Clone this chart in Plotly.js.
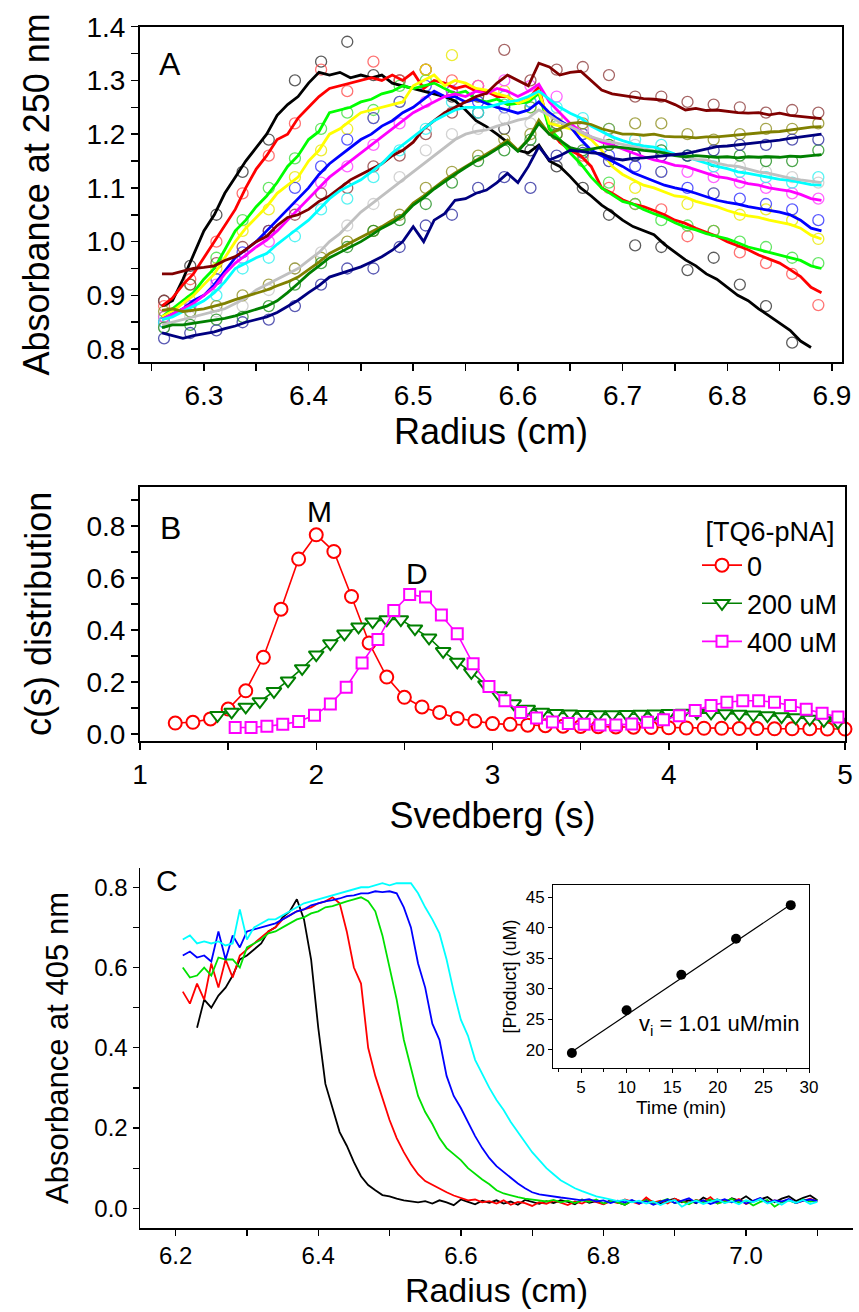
<!DOCTYPE html>
<html>
<head>
<meta charset="utf-8">
<script src="https://cdn.plot.ly/plotly-3.0.1.min.js"></script>
<style>html,body{margin:0;padding:0;background:#fff;}#chart{width:859px;height:1312px;}</style>
</head>
<body>
<div id="chart"></div>
<script>
// ---------------- Panel A data (radius in cm, absorbance at 250 nm) ----------------
const radiusA = [6.26,6.27,6.28,6.29,6.30,6.31,6.32,6.33,6.34,6.35,6.36,6.37,6.38,6.39,6.40,6.41,6.42,6.43,6.44,6.45,6.46,6.47,6.48,6.49,6.50,6.51,6.52,6.53,6.54,6.55,6.56,6.57,6.58,6.59,6.60,6.61,6.62,6.63,6.64,6.65,6.66,6.67,6.68,6.69,6.70,6.71,6.72,6.73,6.74,6.75,6.76,6.77,6.78,6.79,6.80,6.81,6.82,6.83,6.84,6.85,6.86,6.87,6.88,6.89];
const fitBlack = [0.88,0.89,0.93,0.975,1.02,1.05,1.09,1.12, 1.15,1.175,1.20,1.235,1.255,1.27,1.295,1.315, 1.31,1.315,1.305,1.31,1.305,1.31,1.295,1.29, 1.285,1.28,1.275,1.27,1.262,1.245,1.225,1.214, 1.20,1.185,1.17,1.165,1.18,1.15,1.14,1.121, 1.10,1.085,1.068,1.055,1.04,1.028,1.02,1.013, 0.995,0.98,0.966,0.955,0.94,0.93,0.915,0.90, 0.89,0.875,0.862,0.848,0.835,0.815,0.803,null];
const fitRed = [0.88,0.895,0.92,0.94,0.97,1.0,1.03,1.06, 1.10,1.135,1.16,1.19,1.20,1.23,1.25,1.27, 1.285,1.29,1.295,1.30,1.305,1.30,1.31,1.30, 1.315,1.285,1.30,1.295,1.285,1.29,1.28,1.28, 1.27,1.27,1.257,1.265,1.288,1.21,1.185,1.17, 1.16,1.14,1.10,1.09,1.078,1.07,1.065,1.058, 1.05,1.04,1.034,1.025,1.018,1.01,1.0,0.992, 0.985,0.975,0.968,0.96,0.948,0.935,0.915,0.905];
const fitGreen = [0.86,0.875,0.89,0.905,0.93,0.95,0.985,1.02, 1.04,1.065,1.085,1.11,1.14,1.16,1.19,1.205, 1.24,1.245,1.25,1.26,1.265,1.275,1.28,1.29, 1.285,1.29,1.295,1.285,1.275,1.28,1.265,1.26, 1.265,1.255,1.257,1.26,1.276,1.21,1.19,1.165, 1.145,1.12,1.10,1.088,1.075,1.07,1.06,1.052, 1.045,1.035,1.027,1.022,1.015,1.01,1.005,0.998, 0.99,0.985,0.98,0.975,0.97,0.965,0.955,0.95];
const fitYellow = [0.86,0.87,0.885,0.90,0.92,0.94,0.97,1.0, 1.025,1.045,1.065,1.09,1.105,1.12,1.15,1.17, 1.20,1.21,1.225,1.24,1.245,1.25,1.255,1.26, 1.29,1.30,1.31,1.29,1.30,1.295,1.285,1.282, 1.275,1.27,1.257,1.265,1.28,1.22,1.215,1.21, 1.20,1.19,1.17,1.14,1.125,1.115,1.105,1.10, 1.092,1.085,1.083,1.075,1.07,1.065,1.058,1.052, 1.048,1.045,1.04,1.036,1.032,1.025,1.012,1.005];
const fitBlue = [0.855,0.865,0.875,0.89,0.90,0.92,0.945,0.97, 0.985,1.0,1.02,1.04,1.06,1.08,1.10,1.125, 1.145,1.16,1.175,1.19,1.20,1.215,1.225,1.24, 1.25,1.265,1.28,1.27,1.27,1.26,1.265,1.257, 1.25,1.245,1.239,1.245,1.26,1.24,1.225,1.214, 1.19,1.17,1.16,1.15,1.14,1.128,1.12,1.112, 1.105,1.10,1.096,1.09,1.083,1.077,1.073,1.07, 1.065,1.062,1.058,1.055,1.05,1.04,1.025,1.02];
const fitMagenta = [0.855,0.865,0.875,0.885,0.90,0.915,0.94,0.96, 0.975,0.99,1.003,1.02,1.04,1.06,1.08,1.10, 1.12,1.135,1.15,1.165,1.18,1.195,1.21,1.225, 1.24,1.25,1.26,1.27,1.275,1.27,1.28,1.275, 1.285,1.28,1.27,1.28,1.293,1.26,1.24,1.22, 1.205,1.195,1.185,1.18,1.172,1.165,1.158,1.152, 1.148,1.142,1.14,1.134,1.128,1.121,1.118,1.113, 1.108,1.105,1.10,1.097,1.094,1.088,1.08,1.077];
const fitMaroon = [0.94,0.94,0.945,0.95,0.952,0.955,0.965,0.972, 0.985,1.0,1.01,1.03,1.045,1.05,1.06,1.075, 1.085,1.10,1.115,1.125,1.135,1.145,1.16,1.17, 1.185,1.21,1.225,1.24,1.25,1.26,1.27,1.276, 1.295,1.31,1.30,1.29,1.332,1.325,1.31,1.315, 1.317,1.30,1.282,1.275,1.272,1.27,1.266,1.265, 1.263,1.255,1.245,1.248,1.244,1.245,1.242,1.24, 1.239,1.24,1.236,1.239,1.235,1.233,1.23,1.229];
const fitCyan = [0.855,0.86,0.87,0.88,0.89,0.905,0.925,0.95, 0.96,0.97,0.978,0.995,1.01,1.025,1.04,1.06, 1.08,1.095,1.105,1.115,1.13,1.145,1.165,1.18, 1.195,1.21,1.225,1.235,1.245,1.25,1.25,1.25, 1.255,1.26,1.263,1.27,1.28,1.265,1.25,1.239, 1.23,1.215,1.205,1.195,1.188,1.182,1.178,1.176, 1.17,1.163,1.158,1.152,1.146,1.14,1.136,1.13, 1.127,1.123,1.12,1.116,1.114,1.11,1.106,1.105];
const fitGray = [0.845,0.85,0.855,0.86,0.865,0.87,0.875,0.885, 0.895,0.91,0.92,0.93,0.94,0.95,0.965,0.98, 1.0,1.015,1.035,1.055,1.07,1.085,1.10,1.115, 1.13,1.145,1.16,1.175,1.19,1.20,1.205,1.208, 1.215,1.22,1.226,1.23,1.245,1.235,1.222,1.214, 1.205,1.195,1.189,1.185,1.18,1.177,1.172,1.168, 1.164,1.16,1.156,1.153,1.152,1.146,1.142,1.14, 1.135,1.13,1.127,1.122,1.118,1.115,1.112,1.11];
const fitOlive = [0.872,0.875,0.87,0.872,0.875,0.88,0.885,0.892, 0.898,0.905,0.91,0.918,0.925,0.934,0.948,0.962, 0.978,0.988,0.998,1.009,1.018,1.028,1.04,1.05, 1.072,1.085,1.10,1.115,1.128,1.14,1.152,1.164, 1.175,1.189,1.17,1.19,1.226,1.20,1.21,1.22, 1.222,1.218,1.21,1.205,1.20,1.20,1.198,1.20, 1.196,1.195,1.195,1.193,1.195,1.195,1.197,1.198, 1.20,1.202,1.204,1.205,1.208,1.21,1.213,1.214];
const fitDarkGreen = [0.84,0.845,0.845,0.848,0.85,0.853,0.857,0.862, 0.868,0.873,0.88,0.89,0.905,0.922,0.94,0.955, 0.97,0.98,0.99,1.0,1.012,1.025,1.035,1.048, 1.068,1.082,1.098,1.112,1.125,1.138,1.15,1.16, 1.172,1.185,1.168,1.19,1.22,1.20,1.189,1.175, 1.17,1.172,1.176,1.177,1.175,1.172,1.17,1.168, 1.165,1.16,1.158,1.16,1.158,1.157,1.158,1.156, 1.158,1.157,1.158,1.157,1.159,1.158,1.16,1.162];
const fitNavy = [0.83,0.825,0.82,0.825,0.828,0.832,0.838,0.843, 0.85,0.855,0.86,0.868,0.88,0.891,0.905,0.918, 0.934,0.94,0.947,0.953,0.962,0.972,0.984,1.0, 1.028,1.0,1.04,1.052,1.077,1.08,1.09,1.096, 1.11,1.127,1.11,1.14,1.177,1.152,1.16,1.17, 1.168,1.165,1.164,1.155,1.152,1.155,1.156,1.158, 1.16,1.162,1.164,1.168,1.172,1.177,1.178,1.18, 1.183,1.185,1.187,1.189,1.192,1.195,1.198,1.20];

const radiusObs = [6.262,6.287,6.312,6.337,6.362,6.387,6.412,6.437,6.462,6.487,6.512,6.537,6.562,6.587,6.612,6.637,6.662,6.687,6.712,6.737,6.762,6.787,6.812,6.837,6.862,6.887];
const obsBlack = [0.89,0.955,1.05,1.13,1.19,1.30,1.335,1.372,1.31,1.30,1.32,1.27,1.24,1.21,1.17,1.14,1.10,1.05,0.993,0.99,0.947,0.97,0.92,0.88,0.812,null];
const obsRed = [0.88,0.93,1.0,1.09,1.16,1.22,1.32,1.28,1.335,1.30,1.32,1.30,1.29,1.27,1.25,1.20,1.16,1.10,1.07,1.06,1.01,1.02,0.98,0.96,0.94,0.882];
const obsGreen = [0.86,0.92,0.97,1.04,1.10,1.155,1.21,1.24,1.245,1.29,1.30,1.28,1.27,1.255,1.25,1.215,1.15,1.11,1.07,1.04,1.03,1.02,1.0,0.99,0.97,0.96];
const obsYellow = [0.85,0.89,0.95,1.02,1.06,1.12,1.17,1.21,1.23,1.26,1.32,1.347,1.29,1.28,1.26,1.23,1.20,1.18,1.10,1.13,1.07,1.09,1.05,1.06,1.04,1.005];
const obsBlue = [0.85,0.88,0.93,0.98,1.02,1.10,1.14,1.19,1.23,1.26,1.29,1.28,1.26,1.25,1.26,1.22,1.20,1.16,1.14,1.13,1.10,1.09,1.08,1.07,1.06,1.04];
const obsMagenta = [0.86,0.88,0.92,0.97,1.00,1.06,1.11,1.14,1.18,1.22,1.26,1.28,1.29,1.30,1.29,1.27,1.21,1.19,1.16,1.16,1.13,1.12,1.11,1.10,1.09,1.08];
const obsMaroon = [0.89,0.92,0.96,0.99,1.02,1.05,1.09,1.10,1.14,1.16,1.20,1.24,1.27,1.357,1.30,1.32,1.325,1.31,1.27,1.27,1.26,1.255,1.25,1.24,1.245,1.24];
const obsCyan = [0.85,0.87,0.90,0.95,0.97,1.01,1.06,1.08,1.12,1.17,1.21,1.26,1.24,1.27,1.26,1.25,1.23,1.21,1.19,1.18,1.16,1.14,1.13,1.12,1.11,1.12];
const obsGray = [0.84,0.86,0.87,0.88,0.91,0.95,0.98,1.03,1.07,1.12,1.17,1.20,1.21,1.23,1.22,1.23,1.21,1.19,1.18,1.17,1.16,1.15,1.14,1.13,1.12,1.11];
const obsOlive = [0.87,0.87,0.88,0.90,0.92,0.95,0.97,1.0,1.02,1.05,1.10,1.13,1.16,1.19,1.20,1.22,1.22,1.21,1.22,1.22,1.20,1.19,1.20,1.21,1.21,1.22];
const obsDarkGreen = [0.84,0.845,0.855,0.86,0.88,0.92,0.96,0.99,1.02,1.04,1.07,1.11,1.15,1.17,1.19,1.20,1.17,1.18,1.16,1.17,1.16,1.15,1.16,1.15,1.15,1.17];
const obsNavy = [0.82,0.83,0.835,0.85,0.855,0.88,0.92,0.95,0.95,0.99,1.03,1.05,1.10,1.12,1.10,1.16,1.165,1.15,1.16,1.16,1.16,1.17,1.18,1.18,1.19,1.19];

// ---------------- Panel B data (Svedberg, c(s)) ----------------
const legendTitleB = '[TQ6-pNA]';
const seriesNamesB = ['0', '200 uM', '400 uM'];
const sRed = [1.2,1.3,1.4,1.5,1.6,1.7,1.8,1.9,2.0,2.1,2.2,2.3,2.4,2.5,2.6,2.7,2.8,2.9,3.0,3.1,3.2,3.3,3.4,3.5,3.6,3.7,3.8,3.9,4.0,4.1,4.2,4.3,4.4,4.5,4.6,4.7,4.8,4.9,5.0];
const cRed = [0.042,0.045,0.058,0.096,0.166,0.295,0.48,0.673,0.766,0.702,0.529,0.35,0.219,0.141,0.104,0.083,0.06,0.05,0.04,0.037,0.034,0.032,0.03,0.029,0.028,0.027,0.026,0.025,0.024,0.023,0.022,0.022,0.021,0.021,0.02,0.02,0.02,0.019,0.019];
const sGreen = [1.44,1.52,1.60,1.68,1.76,1.84,1.92,2.00,2.08,2.16,2.24,2.32,2.40,2.48,2.56,2.64,2.72,2.80,2.88,2.96,3.04,3.12,3.20,3.28,3.36,3.44,3.52,3.60,3.68,3.76,3.84,3.92,4.00,4.08,4.16,4.24,4.32,4.40,4.48,4.56,4.64,4.72,4.80,4.88,4.96];
const cGreen = [0.072,0.085,0.104,0.125,0.164,0.205,0.252,0.305,0.348,0.385,0.412,0.432,0.44,0.44,0.405,0.37,0.318,0.277,0.237,0.19,0.148,0.117,0.096,0.085,0.08,0.078,0.076,0.075,0.075,0.076,0.077,0.078,0.08,0.081,0.082,0.081,0.079,0.077,0.074,0.071,0.067,0.063,0.058,0.052,0.046];
const sMagenta = [1.54,1.63,1.72,1.81,1.90,1.99,2.08,2.17,2.26,2.35,2.44,2.53,2.62,2.71,2.80,2.89,2.98,3.07,3.16,3.25,3.34,3.43,3.52,3.61,3.70,3.79,3.88,3.97,4.06,4.15,4.24,4.33,4.42,4.51,4.60,4.69,4.78,4.87,4.96];
const cMagenta = [0.025,0.025,0.03,0.037,0.048,0.072,0.115,0.18,0.273,0.363,0.475,0.536,0.527,0.458,0.385,0.27,0.183,0.128,0.083,0.061,0.046,0.04,0.037,0.035,0.035,0.038,0.045,0.055,0.07,0.09,0.11,0.122,0.128,0.128,0.122,0.11,0.095,0.08,0.065];

// ---------------- Panel C data (radius in cm, absorbance at 405 nm) ----------------
const radiusC = [6.21,6.22,6.23,6.24,6.25,6.26,6.27,6.28,6.29,6.30, 6.31,6.32,6.33,6.34,6.35,6.36,6.37,6.38,6.39,6.40, 6.41,6.42,6.43,6.44,6.45,6.46,6.47,6.48,6.49,6.50, 6.51,6.52,6.53,6.54,6.55,6.56,6.57,6.58,6.59,6.60, 6.61,6.62,6.63,6.64,6.65,6.66,6.67,6.68,6.69,6.70, 6.71,6.72,6.73,6.74,6.75,6.76,6.77,6.78,6.79,6.80, 6.81,6.82,6.83,6.84,6.85,6.86,6.87,6.88,6.89,6.90, 6.91,6.92,6.93,6.94,6.95,6.96,6.97,6.98,6.99,7.00, 7.01,7.02,7.03,7.04,7.05,7.06,7.07,7.08,7.09,7.10];
const absBlack = [null,null,0.45,0.52,0.50,0.53,0.55,0.58,0.62,0.63, 0.645,0.66,0.69,0.70,0.725,0.74,0.77,0.72,0.62,0.45, 0.31,0.25,0.19,0.156,0.115,0.08,0.058,0.045,0.033,0.03, 0.024,0.02,0.018,0.015,0.018,0.012,0.02,0.015,0.008,0.022, 0.016,0.01,0.019,0.014,0.02,0.012,0.017,0.009,0.021,0.015, 0.011,0.018,0.013,0.02,0.016,0.01,0.022,0.014,0.018,0.011, 0.02,0.015,0.009,0.019,0.013,0.021,0.016,0.012,0.019,0.024, 0.015,0.02,0.013,0.027,0.018,0.022,0.014,0.025,0.019,0.03, 0.017,0.022,0.028,0.015,0.024,0.03,0.018,0.026,0.032,0.02];
const absRed = [0.54,0.51,0.56,0.52,0.61,0.55,0.62,0.575,0.63,0.645, 0.66,0.675,0.69,0.70,0.72,0.73,0.74,0.745,0.75,0.76, 0.765,0.775,0.76,0.69,0.60,0.56,0.40,0.33,0.275,0.22, 0.175,0.14,0.11,0.085,0.068,0.058,0.05,0.04,0.032,0.025, 0.02,0.022,0.015,0.018,0.012,0.02,0.009,0.016,0.013,0.006, 0.015,0.011,0.019,0.014,0.008,0.017,0.012,0.021,0.015,0.01, 0.018,0.013,0.022,0.016,0.011,0.027,0.014,0.019,0.012,0.024, 0.017,0.013,0.021,0.016,0.028,0.012,0.02,0.015,0.023,0.011, 0.018,0.025,0.014,0.02,0.016,0.022,0.013,0.019,0.024,0.017];
const absGreen = [0.60,0.575,0.58,0.60,0.58,0.625,0.62,0.62,0.60,0.65, 0.66,0.67,0.685,0.69,0.70,0.71,0.72,0.725,0.735,0.74, 0.75,0.753,0.76,0.765,0.77,0.775,0.765,0.74,0.68,0.60, 0.52,0.42,0.35,0.28,0.24,0.21,0.175,0.15,0.135,0.12, 0.10,0.085,0.072,0.06,0.045,0.037,0.032,0.028,0.024,0.022, 0.02,0.017,0.021,0.015,0.019,0.013,0.02,0.016,0.022,0.012, 0.018,0.015,0.009,0.019,0.014,0.02,0.011,0.017,0.023,0.013, 0.018,0.01,0.02,0.015,0.022,0.012,0.017,0.024,0.014,0.019, 0.007,0.016,0.021,0.004,0.015,0.02,0.013,0.022,0.017,0.02];
const absBlue = [0.63,0.64,0.625,0.63,0.615,0.69,0.62,0.68,0.65,0.69, 0.695,0.70,0.705,0.71,0.72,0.73,0.74,0.745,0.755,0.76, 0.765,0.768,0.772,0.778,0.78,0.785,0.785,0.79,0.788,0.79, 0.785,0.75,0.70,0.61,0.55,0.46,0.42,0.33,0.28,0.25, 0.215,0.18,0.15,0.125,0.105,0.09,0.075,0.062,0.05,0.04, 0.035,0.032,0.03,0.027,0.025,0.022,0.02,0.023,0.017,0.02, 0.013,0.019,0.015,0.021,0.012,0.018,0.009,0.016,0.022,0.013, 0.019,0.025,0.014,0.02,0.011,0.018,0.023,0.015,0.021,0.012, 0.019,0.026,0.014,0.02,0.017,0.023,0.013,0.019,0.022,0.018];
const absCyan = [0.67,0.68,0.66,0.665,0.66,0.665,0.655,0.66,0.745,0.67, 0.70,0.71,0.72,0.72,0.73,0.74,0.75,0.76,0.765,0.77, 0.775,0.78,0.785,0.79,0.795,0.80,0.80,0.805,0.81,0.805, 0.81,0.81,0.81,0.785,0.75,0.72,0.685,0.62,0.54,0.47, 0.43,0.37,0.335,0.30,0.27,0.245,0.215,0.19,0.165,0.14, 0.12,0.10,0.085,0.07,0.06,0.05,0.043,0.036,0.03,0.026, 0.022,0.018,0.021,0.015,0.019,0.012,0.017,0.008,0.016,0.021, 0.004,0.014,0.019,0.011,0.017,0.022,0.013,0.018,0.01,0.02, 0.015,0.023,0.012,0.018,0.009,0.02,0.014,0.021,0.011,0.016];

// ---------------- Inset data ----------------
const timeMin = [4, 10, 16, 22, 28];
const productUM = [19.5, 26.5, 32.3, 38.2, 43.7];
const fitTime = [4, 28];
const fitProduct = [19.7, 43.8];

// ---------------- Build figure ----------------
const W = 859, H = 1312;
const px = v => v / W;
const py = v => 1 - v / H;
const FONT = 'Liberation Sans, Arial, Helvetica, sans-serif';

const seriesA = [
  ['#000000', '#333333', fitBlack, obsBlack],
  ['#ff0000', '#ff5050', fitRed, obsRed],
  ['#00ff00', '#40e040', fitGreen, obsGreen],
  ['#ffff00', '#e8e800', fitYellow, obsYellow],
  ['#0000ff', '#3030ff', fitBlue, obsBlue],
  ['#ff00ff', '#ff40ff', fitMagenta, obsMagenta],
  ['#800000', '#904040', fitMaroon, obsMaroon],
  ['#00ffff', '#30f0f0', fitCyan, obsCyan],
  ['#c0c0c0', '#c8c8c8', fitGray, obsGray],
  ['#808000', '#909020', fitOlive, obsOlive],
  ['#008000', '#209020', fitDarkGreen, obsDarkGreen],
  ['#000080', '#3030a0', fitNavy, obsNavy]
];

const traces = [];
seriesA.forEach(s => {
  traces.push({x: radiusObs, y: s[3], xaxis: 'x', yaxis: 'y', mode: 'markers', type: 'scatter', showlegend: false,
    marker: {symbol: 'circle-open', size: 11, color: s[1], opacity: 0.8, line: {width: 1.3, color: s[1]}}});
});
seriesA.forEach(s => {
  traces.push({x: radiusA, y: s[2], xaxis: 'x', yaxis: 'y', mode: 'lines', type: 'scatter', showlegend: false,
    line: {color: s[0], width: 2.8}});
});

traces.push({x: sRed, y: cRed, xaxis: 'x2', yaxis: 'y2', mode: 'lines+markers', name: seriesNamesB[0], cliponaxis: false,
  line: {color: '#ff0000', width: 1.6}, marker: {symbol: 'circle', size: 13, color: '#ffffff', line: {color: '#ff0000', width: 2}}});
traces.push({x: sGreen, y: cGreen, xaxis: 'x2', yaxis: 'y2', mode: 'lines+markers', name: seriesNamesB[1], cliponaxis: false,
  line: {color: '#008000', width: 1.6}, marker: {symbol: 'triangle-down', size: 13, color: '#ffffff', line: {color: '#008000', width: 2}}});
traces.push({x: sMagenta, y: cMagenta, xaxis: 'x2', yaxis: 'y2', mode: 'lines+markers', name: seriesNamesB[2], cliponaxis: false,
  line: {color: '#ff00ff', width: 1.6}, marker: {symbol: 'square', size: 11, color: '#ffffff', line: {color: '#ff00ff', width: 2}}});

const colorsC = ['#000000', '#ff0000', '#00e000', '#0000ff', '#00ffff'];
[absBlack, absRed, absGreen, absBlue, absCyan].forEach((arr, i) => {
  traces.push({x: radiusC, y: arr, xaxis: 'x3', yaxis: 'y3', mode: 'lines', type: 'scatter', showlegend: false,
    line: {color: colorsC[i], width: 1.8}});
});

traces.push({x: fitTime, y: fitProduct, xaxis: 'x4', yaxis: 'y4', mode: 'lines', showlegend: false, line: {color: '#000', width: 1.2}});
traces.push({x: timeMin, y: productUM, xaxis: 'x4', yaxis: 'y4', mode: 'markers', showlegend: false, marker: {color: '#000', size: 10}});

const axBase = {showgrid: false, zeroline: false, showline: true, linecolor: '#000', ticks: 'outside', tickcolor: '#000', color: '#000'};

const layout = {
  width: W, height: H,
  margin: {l: 0, r: 0, t: 0, b: 0},
  paper_bgcolor: '#fff', plot_bgcolor: '#fff',
  font: {family: FONT, color: '#000'},
  showlegend: true,
  legend: {x: px(697), y: py(506), xanchor: 'left', yanchor: 'top', bgcolor: 'rgba(0,0,0,0)', borderwidth: 0,
    font: {size: 27, family: FONT}, itemwidth: 40,
    title: {text: legendTitleB, side: 'top center', font: {size: 27, family: FONT}}},
  xaxis: Object.assign({}, axBase, {domain: [px(140), px(842)], range: [6.239, 6.9096], anchor: 'y', mirror: true, linewidth: 2,
    tick0: 6.3, dtick: 0.1, tickformat: '.1f', ticklen: 7, tickwidth: 1.5, tickfont: {size: 28},
    minor: {dtick: 0.05, tick0: 6.25, ticks: 'outside', ticklen: 7, tickwidth: 1.5, tickcolor: '#000', showgrid: false},
    title: {text: 'Radius (cm)', font: {size: 36}, standoff: 5}}),
  yaxis: Object.assign({}, axBase, {domain: [py(362), py(26.7)], range: [0.776, 1.4], anchor: 'x', mirror: true, linewidth: 2,
    tick0: 0.8, dtick: 0.1, tickformat: '.1f', ticklen: 7, tickwidth: 1.5, tickfont: {size: 28},
    minor: {dtick: 0.05, tick0: 0.8, ticks: 'outside', ticklen: 7, tickwidth: 1.5, tickcolor: '#000', showgrid: false},
    title: {text: 'Absorbance at 250 nm', font: {size: 36}, standoff: 26}}),
  xaxis2: Object.assign({}, axBase, {domain: [px(140), px(845)], range: [1, 5], anchor: 'y2', mirror: true, linewidth: 2,
    tick0: 1, dtick: 1, ticklen: 7, tickwidth: 1.5, tickfont: {size: 28},
    minor: {dtick: 0.5, tick0: 1, ticks: 'outside', ticklen: 7, tickwidth: 1.5, tickcolor: '#000', showgrid: false},
    title: {text: 'Svedberg (s)', font: {size: 36}, standoff: 14}}),
  yaxis2: Object.assign({}, axBase, {domain: [py(741), py(486.7)], range: [-0.027, 0.951], anchor: 'x2', mirror: true, linewidth: 2,
    tick0: 0, dtick: 0.2, tickformat: '.1f', ticklen: 7, tickwidth: 1.5, tickfont: {size: 28},
    minor: {dtick: 0.1, tick0: 0, ticks: 'outside', ticklen: 7, tickwidth: 1.5, tickcolor: '#000', showgrid: false},
    title: {text: 'c(s) distribution', font: {size: 36}, standoff: 24}}),
  xaxis3: Object.assign({}, axBase, {domain: [px(140), px(853)], range: [6.15, 7.15], anchor: 'y3', linewidth: 1.5,
    tick0: 6.2, dtick: 0.2, tickformat: '.1f', ticklen: 6, tickwidth: 1.3, tickfont: {size: 24},
    minor: {dtick: 0.1, tick0: 6.2, ticks: 'outside', ticklen: 6, tickwidth: 1.3, tickcolor: '#000', showgrid: false},
    title: {text: 'Radius (cm)', font: {size: 34}, standoff: 10}}),
  yaxis3: Object.assign({}, axBase, {domain: [py(1228), py(868)], range: [-0.049, 0.848], anchor: 'x3', linewidth: 1.5,
    tick0: 0, dtick: 0.2, tickformat: '.1f', ticklen: 6, tickwidth: 1.3, tickfont: {size: 24},
    minor: {dtick: 0.1, tick0: 0, ticks: 'outside', ticklen: 6, tickwidth: 1.3, tickcolor: '#000', showgrid: false},
    title: {text: 'Absorbance at 405 nm', font: {size: 31}, standoff: 16}}),
  xaxis4: Object.assign({}, axBase, {domain: [px(553), px(809)], range: [1.93, 30], anchor: 'y4', mirror: true, linewidth: 1,
    tick0: 5, dtick: 5, ticklen: 4, tickwidth: 1, tickfont: {size: 17},
    minor: {dtick: 2.5, tick0: 0, ticks: 'outside', ticklen: 3, tickwidth: 1, tickcolor: '#000', showgrid: false},
    title: {text: 'Time (min)', font: {size: 19}, standoff: 4}}),
  yaxis4: Object.assign({}, axBase, {domain: [py(1068), py(885)], range: [17.05, 47], anchor: 'x4', mirror: true, linewidth: 1,
    tick0: 20, dtick: 5, ticklen: 4, tickwidth: 1, tickfont: {size: 17},
    title: {text: '[Product] (uM)', font: {size: 18}, standoff: 4}}),
  annotations: [
    {text: 'A', xref: 'paper', yref: 'paper', x: px(170), y: py(64), showarrow: false, font: {size: 32}, xanchor: 'center', yanchor: 'middle'},
    {text: 'B', xref: 'paper', yref: 'paper', x: px(170), y: py(528), showarrow: false, font: {size: 32}, xanchor: 'center', yanchor: 'middle'},
    {text: 'C', xref: 'paper', yref: 'paper', x: px(167), y: py(880), showarrow: false, font: {size: 30}, xanchor: 'center', yanchor: 'middle'},
    {text: 'M', xref: 'x2', yref: 'y2', x: 2.02, y: 0.854, showarrow: false, font: {size: 30}, xanchor: 'center', yanchor: 'middle'},
    {text: 'D', xref: 'x2', yref: 'y2', x: 2.57, y: 0.617, showarrow: false, font: {size: 30}, xanchor: 'center', yanchor: 'middle'},
    {text: 'v<sub>i</sub> = 1.01 uM/min', xref: 'x4', yref: 'y4', x: 20.2, y: 24.1, showarrow: false, font: {size: 22}, xanchor: 'center', yanchor: 'middle'}
  ]
};

Plotly.newPlot('chart', traces, layout, {staticPlot: true, displayModeBar: false});
</script>
</body>
</html>
